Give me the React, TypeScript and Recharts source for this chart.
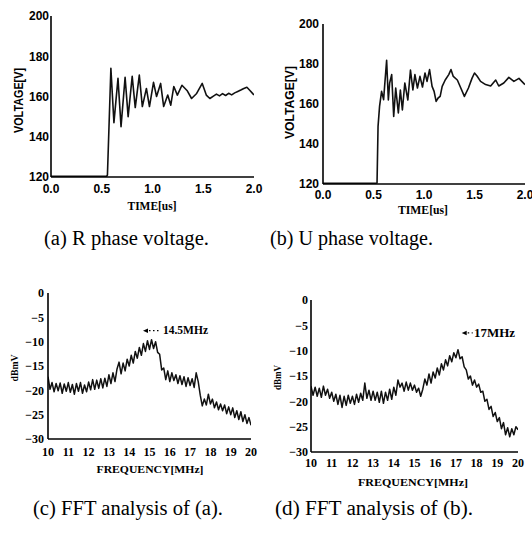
import React from 'react';
import { LineChart, Line, XAxis, YAxis, ReferenceDot } from 'recharts';

// ---------- data ----------
const timeTicks = [0, 0.5, 1, 1.5, 2];
const voltTicks = [120, 140, 160, 180, 200];
const freqTicks = [10, 11, 12, 13, 14, 15, 16, 17, 18, 19, 20];
const dbTicks = [-30, -25, -20, -15, -10, -5, 0];

const timeA = [0, 0.1, 0.2, 0.3, 0.4, 0.5, 0.548, 0.556, 0.59, 0.62, 0.66, 0.69, 0.73, 0.76, 0.8, 0.83, 0.87, 0.9, 0.94, 0.97, 1.01, 1.04, 1.08, 1.11, 1.15, 1.18, 1.21, 1.245, 1.29, 1.34, 1.385, 1.435, 1.49, 1.53, 1.565, 1.6, 1.63, 1.66, 1.69, 1.72, 1.75, 1.78, 1.81, 1.84, 1.87, 1.9, 1.93, 1.96, 1.99, 2.0];
const voltA = [120.4, 120.3, 120.4, 120.3, 120.4, 120.3, 120.4, 121, 174, 147, 169, 145, 169.5, 150, 170, 154.5, 170.6, 155, 164, 155, 167, 160, 166.5, 155, 160.7, 155.7, 165, 160.7, 165.6, 163, 159, 161.5, 166.5, 160.7, 159, 160.2, 161.2, 160.3, 161.4, 160.5, 161.6, 160.8, 161.8, 162.5, 163.2, 164, 164.6, 163, 161.3, 160.8];

const timeB = [0, 0.1, 0.2, 0.3, 0.4, 0.5, 0.535, 0.545, 0.56, 0.58, 0.6, 0.61, 0.63, 0.647, 0.66, 0.68, 0.7, 0.72, 0.746, 0.766, 0.786, 0.81, 0.84, 0.866, 0.89, 0.91, 0.935, 0.96, 0.985, 1.01, 1.03, 1.055, 1.08, 1.1, 1.12, 1.14, 1.16, 1.18, 1.21, 1.245, 1.267, 1.29, 1.33, 1.36, 1.4, 1.44, 1.475, 1.5, 1.525, 1.56, 1.61, 1.66, 1.71, 1.74, 1.79, 1.84, 1.89, 1.94, 2.0];
const voltB = [120.4, 120.3, 120.4, 120.3, 120.4, 120.3, 120.5, 148.8, 158.8, 166.3, 162.2, 168.8, 181.8, 162, 170.5, 174.7, 153.8, 168, 155.5, 167, 157, 170.5, 162, 177, 167, 174.7, 168, 173.8, 168.5, 175.5, 171.3, 177.2, 168.8, 166.3, 161.3, 163, 163.8, 168.8, 172, 174.7, 177.2, 173.8, 172, 168.5, 163.8, 168, 172.8, 175.5, 174, 171.3, 169.7, 169, 172, 169, 170.5, 173.3, 171.3, 172.8, 169.7];

const freqs = [
  10.0, 10.1, 10.2, 10.3, 10.4, 10.5, 10.6, 10.7, 10.8, 10.9,
  11.0, 11.1, 11.2, 11.3, 11.4, 11.5, 11.6, 11.7, 11.8, 11.9,
  12.0, 12.1, 12.2, 12.3, 12.4, 12.5, 12.6, 12.7, 12.8, 12.9,
  13.0, 13.1, 13.2, 13.3, 13.4, 13.5, 13.6, 13.7, 13.8, 13.9,
  14.0, 14.1, 14.2, 14.3, 14.4, 14.5, 14.6, 14.7, 14.8, 14.9,
  15.0, 15.1, 15.2, 15.3, 15.4, 15.5, 15.6, 15.7, 15.8, 15.9,
  16.0, 16.1, 16.2, 16.3, 16.4, 16.5, 16.6, 16.7, 16.8, 16.9,
  17.0, 17.1, 17.2, 17.3, 17.4, 17.5, 17.6, 17.7, 17.8, 17.9,
  18.0, 18.1, 18.2, 18.3, 18.4, 18.5, 18.6, 18.7, 18.8, 18.9,
  19.0, 19.1, 19.2, 19.3, 19.4, 19.5, 19.6, 19.7, 19.8, 19.9,
  20.0,
];

const dbC = [
  -17.2, -19.8, -18.4, -20.3, -18.6, -20.1, -18.5, -20.6, -18.7, -20.2,
  -18.4, -20.4, -18.8, -20.8, -18.6, -20.2, -18.4, -20.6, -18.9, -20.3,
  -18.3, -19.9, -17.8, -19.8, -17.9, -19.6, -17.6, -19.5, -17.5, -19.2,
  -16.8, -18.6, -16.4, -18.2, -15.6, -14.2, -16.6, -14.4, -16.0, -13.6,
  -15.0, -12.8, -14.4, -12.0, -13.4, -11.2, -12.8, -10.4, -12.0, -9.8,
  -11.6, -9.6, -11.4, -10.0, -12.2, -12.6, -15.8, -15.4, -17.8, -16.0,
  -18.2, -16.4, -18.0, -16.8, -18.6, -17.0, -18.8, -17.2, -19.2, -17.4,
  -19.0, -17.6, -19.4, -16.4, -18.2, -21.0, -23.2, -21.8, -23.0, -20.8,
  -22.8, -21.8, -23.6, -22.4, -24.0, -22.8, -24.2, -23.0, -24.8, -23.4,
  -25.0, -23.6, -25.6, -24.2, -26.0, -24.4, -26.4, -25.0, -26.8, -25.6,
  -27.2,
];

const dbD = [
  -17.0, -18.8, -17.2, -19.0, -17.4, -19.2, -17.0, -18.8, -17.6, -19.4,
  -18.2, -20.0, -18.6, -20.6, -18.8, -21.2, -19.0, -20.8, -18.8, -20.4,
  -19.0, -20.6, -18.6, -20.2, -18.4, -19.8, -16.4, -19.4, -17.8, -19.8,
  -18.0, -19.8, -18.2, -20.2, -18.0, -20.4, -18.2, -19.8, -17.6, -19.6,
  -17.2, -18.8, -15.8, -17.2, -16.4, -18.0, -16.2, -17.8, -16.4, -17.8,
  -16.8, -18.2, -17.4, -19.0, -17.6, -15.6, -16.8, -14.6, -16.4, -14.2,
  -15.4, -13.4, -14.8, -12.6, -13.8, -11.8, -13.0, -11.0, -12.2, -10.4,
  -11.4, -9.8, -11.6, -11.2, -13.2, -13.8, -15.6, -15.0, -16.8, -15.8,
  -17.2, -16.6, -18.2, -18.0, -20.0, -19.6, -21.6, -21.0, -23.0, -22.2,
  -24.0, -23.2, -25.4, -24.2, -26.6, -25.2, -27.0, -25.4, -26.6, -25.0,
  -25.6,
];

const peakC = { f: 14.68, db: -7.75, label: '14.5MHz' };
const peakD = { f: 17.28, db: -6.5, label: '17MHz' };

// ---------- helpers ----------
const dataA = timeA.map((t, i) => ({ x: t, y: voltA[i] }));
const dataB = timeB.map((t, i) => ({ x: t, y: voltB[i] }));
const dataC = freqs.map((f, i) => ({ x: f, y: dbC[i] }));
const dataD = freqs.map((f, i) => ({ x: f, y: dbD[i] }));

const SANS = '"Liberation Sans", Arial, sans-serif';
const SERIF = '"Liberation Serif", "Times New Roman", serif';

const fmtTime = (v: number) => v.toFixed(1);
const fmtDb = (v: number) => (v < 0 ? '\u2212' + Math.abs(v) : String(v));

const ArrowShape = (len: number) => (props: any) => {
  const { cx, cy } = props;
  if (cx == null || cy == null) return <g />;
  return (
    <g>
      <polygon points={`${cx},${cy} ${cx + 5},${cy - 2.2} ${cx + 5},${cy + 2.2}`} fill="#000" />
      <line x1={cx + 6} y1={cy} x2={cx + len} y2={cy} stroke="#000" strokeWidth={1.3} strokeDasharray="1.5 2.5" />
    </g>
  );
};

type PanelProps = {
  left: number; top: number; width: number; height: number;
  data: { x: number; y: number }[];
  margin: { top: number; right: number; bottom: number; left: number };
  yWidth: number; xHeight: number;
  xDomain: [number, number]; yDomain: [number, number];
  xTicks: number[]; yTicks: number[];
  xFmt: (v: number) => string; yFmt: (v: number) => string;
  tickFont: any; xTickMargin: number; yTickMargin: number;
  strokeWidth: number;
  children?: React.ReactNode;
};

function Panel(p: PanelProps) {
  return (
    <div style={{ position: 'absolute', left: p.left, top: p.top, width: p.width, height: p.height }}>
      <LineChart width={p.width} height={p.height} data={p.data} margin={p.margin}>
        <XAxis
          dataKey="x" type="number" domain={p.xDomain} ticks={p.xTicks} tickFormatter={p.xFmt}
          height={p.xHeight} axisLine={{ stroke: '#000', strokeWidth: 1.6 }} tickLine={false} tickSize={0}
          tickMargin={p.xTickMargin} tick={p.tickFont} interval={0} allowDataOverflow
        />
        <YAxis
          type="number" domain={p.yDomain} ticks={p.yTicks} tickFormatter={p.yFmt}
          width={p.yWidth} axisLine={{ stroke: '#000', strokeWidth: 1.6 }} tickLine={false} tickSize={0}
          tickMargin={p.yTickMargin} tick={p.tickFont} interval={0} allowDataOverflow
        />
        <Line
          dataKey="y" type="linear" stroke="#111" strokeWidth={p.strokeWidth} dot={false}
          isAnimationActive={false} strokeLinejoin="round"
        />
        {p.children}
      </LineChart>
    </div>
  );
}

const timeTickFont = { fontFamily: SANS, fontSize: 12, fontWeight: 'bold', fill: '#000' };
const freqTickFont = { fontFamily: SERIF, fontSize: 12, fontWeight: 'bold', fill: '#000' };

export default function App() {
  return (
    <div style={{ position: 'absolute', left: 0, top: 0, width: 532, height: 539, background: '#fff', overflow: 'hidden' }}>
      <Panel
        left={0} top={0} width={266} height={230} data={dataA}
        margin={{ top: 16, right: 12, bottom: 0, left: 0 }} yWidth={51} xHeight={53}
        xDomain={[0, 2]} yDomain={[120, 200]} xTicks={timeTicks} yTicks={voltTicks}
        xFmt={fmtTime} yFmt={(v) => String(v)} tickFont={timeTickFont}
        xTickMargin={7} yTickMargin={2} strokeWidth={1.6}
      />
      <Panel
        left={266} top={0} width={266} height={230} data={dataB}
        margin={{ top: 24, right: 7, bottom: 0, left: 0 }} yWidth={57} xHeight={46}
        xDomain={[0, 2]} yDomain={[120, 200]} xTicks={timeTicks} yTicks={voltTicks}
        xFmt={fmtTime} yFmt={(v) => String(v)} tickFont={timeTickFont}
        xTickMargin={6} yTickMargin={4} strokeWidth={1.6}
      />
      <Panel
        left={0} top={270} width={266} height={240} data={dataC}
        margin={{ top: 23, right: 15, bottom: 0, left: 0 }} yWidth={48} xHeight={71}
        xDomain={[10, 20]} yDomain={[-30, 0]} xTicks={freqTicks} yTicks={dbTicks}
        xFmt={(v) => String(v)} yFmt={fmtDb} tickFont={freqTickFont}
        xTickMargin={8} yTickMargin={4} strokeWidth={1.5}
      >
        <ReferenceDot x={peakC.f} y={peakC.db} r={3} shape={ArrowShape(17)} ifOverflow="visible" />
      </Panel>
      <Panel
        left={266} top={270} width={266} height={240} data={dataD}
        margin={{ top: 30, right: 14, bottom: 0, left: 0 }} yWidth={45} xHeight={58}
        xDomain={[10, 20]} yDomain={[-30, 0]} xTicks={freqTicks} yTicks={dbTicks}
        xFmt={(v) => String(v)} yFmt={fmtDb} tickFont={freqTickFont}
        xTickMargin={6} yTickMargin={3} strokeWidth={1.5}
      >
        <ReferenceDot x={peakD.f} y={peakD.db} r={3} shape={ArrowShape(11)} ifOverflow="visible" />
      </Panel>

      <svg width={532} height={539} style={{ position: 'absolute', left: 0, top: 0, pointerEvents: 'none' }}>
        {/* axis titles */}
        <text transform="translate(18.5,100.5) rotate(-90)" textAnchor="middle" dominantBaseline="central"
          fontFamily={SANS} fontWeight="bold" fontSize={12} textLength={65} lengthAdjust="spacingAndGlyphs">VOLTAGE[V]</text>
        <text transform="translate(290,102.5) rotate(-90)" textAnchor="middle" dominantBaseline="central"
          fontFamily={SANS} fontWeight="bold" fontSize={12.5} textLength={73} lengthAdjust="spacingAndGlyphs">VOLTAGE[V]</text>
        <text x={152} y={206} textAnchor="middle" dominantBaseline="central"
          fontFamily={SERIF} fontWeight="bold" fontSize={12} textLength={49} lengthAdjust="spacingAndGlyphs">TIME[us]</text>
        <text x={423} y={209.5} textAnchor="middle" dominantBaseline="central"
          fontFamily={SERIF} fontWeight="bold" fontSize={12} textLength={50} lengthAdjust="spacingAndGlyphs">TIME[us]</text>
        <text transform="translate(13.5,368) rotate(-90)" textAnchor="middle" dominantBaseline="central"
          fontFamily={SERIF} fontWeight="bold" fontSize={11} textLength={27} lengthAdjust="spacingAndGlyphs">dBmV</text>
        <text transform="translate(276.5,377.5) rotate(-90)" textAnchor="middle" dominantBaseline="central"
          fontFamily={SERIF} fontWeight="bold" fontSize={11} textLength={25} lengthAdjust="spacingAndGlyphs">dBmV</text>
        <text x={150} y={469} textAnchor="middle" dominantBaseline="central"
          fontFamily={SERIF} fontWeight="bold" fontSize={11} textLength={107} lengthAdjust="spacingAndGlyphs">FREQUENCY[MHz]</text>
        <text x={413} y={481.5} textAnchor="middle" dominantBaseline="central"
          fontFamily={SERIF} fontWeight="bold" fontSize={11} textLength={110} lengthAdjust="spacingAndGlyphs">FREQUENCY[MHz]</text>
        {/* peak annotations */}
        <text x={163} y={330} dominantBaseline="central"
          fontFamily={SERIF} fontWeight="bold" fontSize={11.5} textLength={45} lengthAdjust="spacingAndGlyphs">{peakC.label}</text>
        <text x={474} y={333} dominantBaseline="central"
          fontFamily={SERIF} fontWeight="bold" fontSize={11.5} textLength={41} lengthAdjust="spacingAndGlyphs">{peakD.label}</text>
        {/* captions */}
        <text x={44} y={245} fontFamily={SERIF} fontSize={20} textLength={165} lengthAdjust="spacingAndGlyphs">(a) R phase voltage.</text>
        <text x={270} y={245} fontFamily={SERIF} fontSize={20} textLength={163} lengthAdjust="spacingAndGlyphs">(b) U phase voltage.</text>
        <text x={33} y={515} fontFamily={SERIF} fontSize={20} textLength={190} lengthAdjust="spacingAndGlyphs">(c) FFT analysis of (a).</text>
        <text x={275} y={515} fontFamily={SERIF} fontSize={20} textLength={198} lengthAdjust="spacingAndGlyphs">(d) FFT analysis of (b).</text>
      </svg>
    </div>
  );
}
